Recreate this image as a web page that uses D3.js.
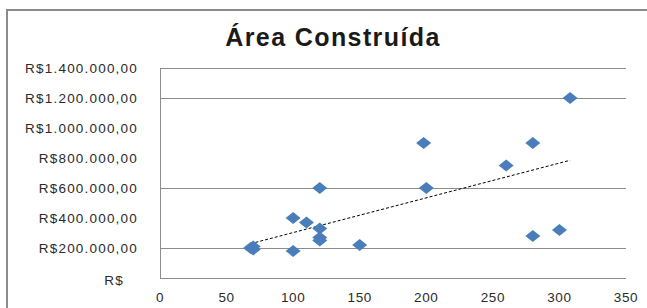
<!DOCTYPE html>
<html><head><meta charset="utf-8">
<script src="https://cdn.jsdelivr.net/npm/d3@7"></script>
<style>
body{margin:0;background:#fff;}
text{font-family:"Liberation Sans",Arial,sans-serif;}
</style></head>
<body>
<svg id="c" width="647" height="308"></svg>
<script>
const title = "Área Construída";
const areaValues = [68, 70, 70, 100, 100, 110, 120, 120, 120, 120, 150, 198, 200, 260, 280, 280, 300, 308];
const priceValues = [200000, 190000, 210000, 180000, 400000, 370000, 330000, 270000, 250000, 600000, 220000, 900000, 600000, 750000, 900000, 280000, 320000, 1200000];
const xTicks = [0, 50, 100, 150, 200, 250, 300, 350];
const yTicks = [0, 200000, 400000, 600000, 800000, 1000000, 1200000, 1400000];
const gridTicks = [200000, 600000, 1200000, 1400000];

const svg = d3.select("#c");
const W = 647, H = 308;
svg.append("rect").attr("width", W).attr("height", H).attr("fill", "#fff");
// outer chart border
svg.append("rect").attr("x", 7).attr("y", 10).attr("width", 700).attr("height", 400)
  .attr("fill", "none").attr("stroke", "#8c8c8c").attr("stroke-width", 2);

const x = d3.scaleLinear().domain([0, 350]).range([160, 626]);
const y = d3.scaleLinear().domain([0, 1400000]).range([278, 68]);

function fmt(v) {
  if (v === 0) return "R$";
  const s = d3.format(",.2f")(v);
  return "R$" + s.replace(/,/g, "#").replace(".", ",").replace(/#/g, ".");
}

// gridlines
svg.append("g").selectAll("line").data(gridTicks).join("line")
  .attr("x1", x(0)).attr("x2", x(350))
  .attr("y1", d => Math.round(y(d)) + 0.5).attr("y2", d => Math.round(y(d)) + 0.5)
  .attr("stroke", "#8c8c8c").attr("stroke-width", 1);

// axes lines
svg.append("line").attr("x1", x(0) + 0.5).attr("x2", x(0) + 0.5).attr("y1", y(1400000)).attr("y2", y(0))
  .attr("stroke", "#8c8c8c");
svg.append("line").attr("x1", x(0)).attr("x2", x(350)).attr("y1", y(0) + 0.5).attr("y2", y(0) + 0.5)
  .attr("stroke", "#8c8c8c");

// y labels
svg.append("g").selectAll("text").data(yTicks).join("text")
  .attr("x", d => d === 0 ? 124 : 138)
  .attr("y", d => y(d) + (d === 0 ? 7 : 5))
  .attr("text-anchor", "end")
  .attr("font-size", 13.5)
  .attr("letter-spacing", 1.2)
  .attr("fill", "#2a2a2a")
  .text(fmt);

// x labels
svg.append("g").selectAll("text").data(xTicks).join("text")
  .attr("x", d => x(d))
  .attr("y", 302)
  .attr("text-anchor", "middle")
  .attr("font-size", 13.5)
  .attr("letter-spacing", 0.6)
  .attr("fill", "#2a2a2a")
  .text(d => d);

// title
svg.append("text").attr("x", 333).attr("y", 46).attr("text-anchor", "middle")
  .attr("font-size", 25).attr("font-weight", "bold").attr("letter-spacing", 1.4)
  .attr("fill", "#1a1a1a").text(title);

// trend line (least squares)
const data = areaValues.map((a, i) => ({a, p: priceValues[i]}));
const mx = d3.mean(areaValues), my = d3.mean(priceValues);
const sxy = d3.sum(data, d => (d.a - mx) * (d.p - my));
const sxx = d3.sum(data, d => (d.a - mx) ** 2);
const slope = sxy / sxx, icpt = my - slope * mx;
const [x0, x1] = d3.extent(areaValues);
svg.append("line")
  .attr("x1", x(x0)).attr("y1", y(icpt + slope * x0))
  .attr("x2", x(x1)).attr("y2", y(icpt + slope * x1))
  .attr("stroke", "#000").attr("stroke-width", 1).attr("stroke-dasharray", "3,2");

// markers
const diamond = "M0,-6 L7.5,0 L0,6 L-7.5,0 Z";
svg.append("g").selectAll("path").data(data).join("path")
  .attr("transform", d => `translate(${x(d.a)},${y(d.p)})`)
  .attr("d", diamond)
  .attr("fill", "#4A7EBB");
</script>
</body></html>
